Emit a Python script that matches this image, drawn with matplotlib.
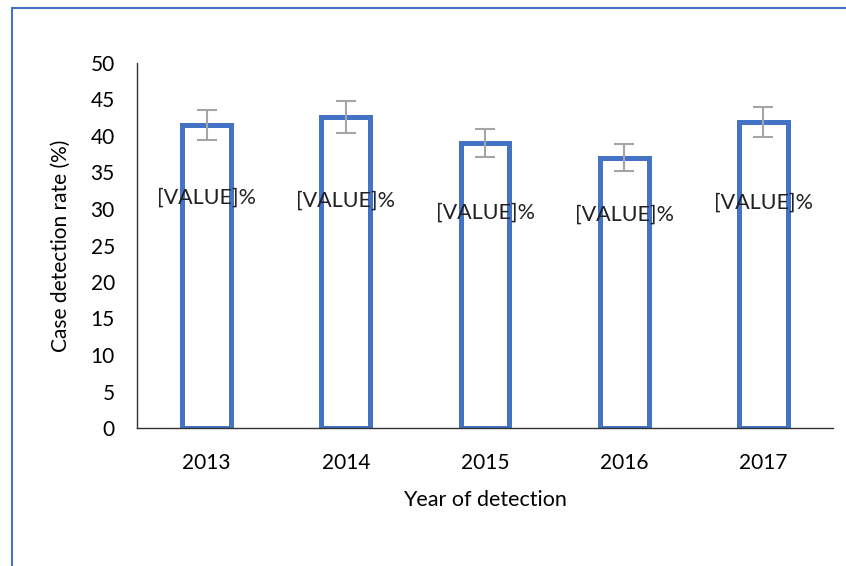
import matplotlib.pyplot as plt
from matplotlib.patches import Rectangle

plt.rcParams['font.family'] = ['Lato', 'DejaVu Sans']

years = ["2013", "2014", "2015", "2016", "2017"]
rates = [41.5, 42.6, 39.0, 37.0, 41.9]
errors = [2.0, 2.2, 1.9, 1.85, 2.1]
label_y = [31.5, 31.2, 29.5, 29.2, 30.8]

fig = plt.figure(figsize=(8.46, 5.66), dpi=100)
ax = fig.add_axes([137 / 846, 138 / 566, 696 / 846, 365 / 566])

x = range(len(years))
ax.bar(x, rates, width=0.35, facecolor="white", edgecolor="#4472C4", linewidth=3.6)
ax.errorbar(x, rates, yerr=errors, fmt="none", ecolor="#A5A5A5",
            elinewidth=1.5, capsize=7, capthick=1.5)

for i, y in enumerate(label_y):
    ax.text(i, y, "[VALUE]%", ha="center", va="center", fontsize=15.5, color="#222222")

ax.set_xlim(-0.5, 4.5)
ax.set_ylim(0, 50)
ax.set_yticks(range(0, 51, 5))
ax.set_xticks(list(x))
ax.set_xticklabels(years)
ax.tick_params(length=0, labelsize=15)
ax.tick_params(axis="y", pad=16)
ax.tick_params(axis="x", pad=18)
for s in ["top", "right"]:
    ax.spines[s].set_visible(False)
for s in ["left", "bottom"]:
    ax.spines[s].set_color("#333333")
    ax.spines[s].set_linewidth(1)

ax.set_xlabel("Year of detection", fontsize=15.5, labelpad=12)
ax.set_ylabel("Case detection rate (%)", fontsize=15, labelpad=14)

# outer frame of the chart area
fig.patches.append(Rectangle((12 / 846, -0.1), 1.2, 1 - 8 / 566 + 0.1,
                             transform=fig.transFigure, fill=False,
                             edgecolor="#4472C4", linewidth=1.5))

fig.savefig("out.png", dpi=100)
